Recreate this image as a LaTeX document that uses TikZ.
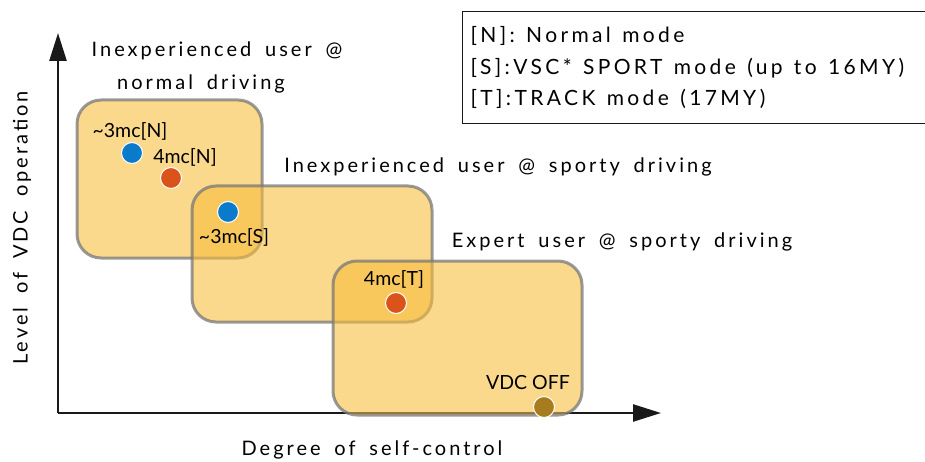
\documentclass[tikz,border=0pt]{standalone}
\usepackage{fontspec}
\setmainfont{Lato}
\newfontfamily\widefont[LetterSpace=15,WordSpace=1.7]{Lato}
\newfontfamily\legendfont[LetterSpace=16,WordSpace=1.3]{Lato}
\usetikzlibrary{arrows.meta,positioning}
\definecolor{zonefill}{RGB}{246,189,60}
\definecolor{zoneline}{RGB}{120,120,120}
\definecolor{dotblue}{RGB}{10,122,203}
\definecolor{dotorange}{RGB}{217,83,27}
\definecolor{dotolive}{RGB}{166,124,30}

\begin{document}
\begin{tikzpicture}[
    x=1pt, y=-1pt,
    zone/.style={rectangle, draw=zoneline, draw opacity=0.75, line width=3pt, fill=zonefill, fill opacity=0.59, rounded corners=24pt},
    dot/.style={circle, draw=white, line width=1pt, minimum size=21pt, inner sep=0pt},
    tag/.style={font=\fontsize{19.5}{22}\selectfont, inner sep=0pt},
    title/.style={font=\widefont\fontsize{20}{24}\selectfont, inner sep=0pt},
    arrow/.style={-{Triangle[length=28pt,width=17pt]}, line width=2.5pt, draw=black!90}
]
\useasboundingbox (0,0) rectangle (925,462);

% axes
\coordinate (origin) at (58,413);
\coordinate (ytip) at (58,33);
\coordinate (xtip) at (661,413);
\draw[arrow] (origin) -- (ytip);
\draw[arrow] (origin) -- (xtip);
\node[title, rotate=90] (ylabel) at (22,228) {Level of VDC operation};
\node[title] (xlabel) at (372,450) {Degree of self-control};

% zones
\node[zone, minimum width=185pt, minimum height=158pt] (normal) at (169.5,179) {};
\node[zone, minimum width=240pt, minimum height=136pt] (sporty) at (312,254) {};
\node[zone, minimum width=249pt, minimum height=154pt] (expert) at (457.5,338) {};

\node[title] (normaltitle) at (217,51) {Inexperienced user @};
\node[title] (normaltitle2) at (201,84) {normal driving};
\node[title] (sportytitle) at (498,167) {Inexperienced user @ sporty driving};
\node[title] (experttitle) at (622,242) {Expert user @ sporty driving};

% operating points
\node[dot, fill=dotblue] (n3) at (132,153) {};
\node[dot, fill=dotorange] (n4) at (171,178) {};
\node[dot, fill=dotblue] (s3) at (228,212) {};
\node[dot, fill=dotorange] (t4) at (396,303) {};
\node[dot, fill=dotolive] (off) at (544,407) {};

\node[tag] (n3label) at (130,131) {\char`~3mc[N]};
\node[tag] (n4label) at (185,157) {4mc[N]};
\node[tag] (s3label) at (234,237) {\char`~3mc[S]};
\node[tag] (t4label) at (394,279) {4mc[T]};
\node[tag] (offlabel) at (528,383) {VDC OFF};

% legend
\node[draw=black!90, line width=1.2pt, anchor=north west, minimum width=490pt, minimum height=112pt,
      text width=474pt, align=left, inner sep=8pt, font=\legendfont\fontsize{21}{31.5}\selectfont] (legend) at (462,11)
    {\spaceskip=0pt\xspaceskip=0pt\frenchspacing
     {[N]}: Normal mode\\
     {[S]}:\,VSC* SPORT mode (up to 16MY)\\
     {[T]}:\,TRACK mode (17MY)};
\end{tikzpicture}
\end{document}
